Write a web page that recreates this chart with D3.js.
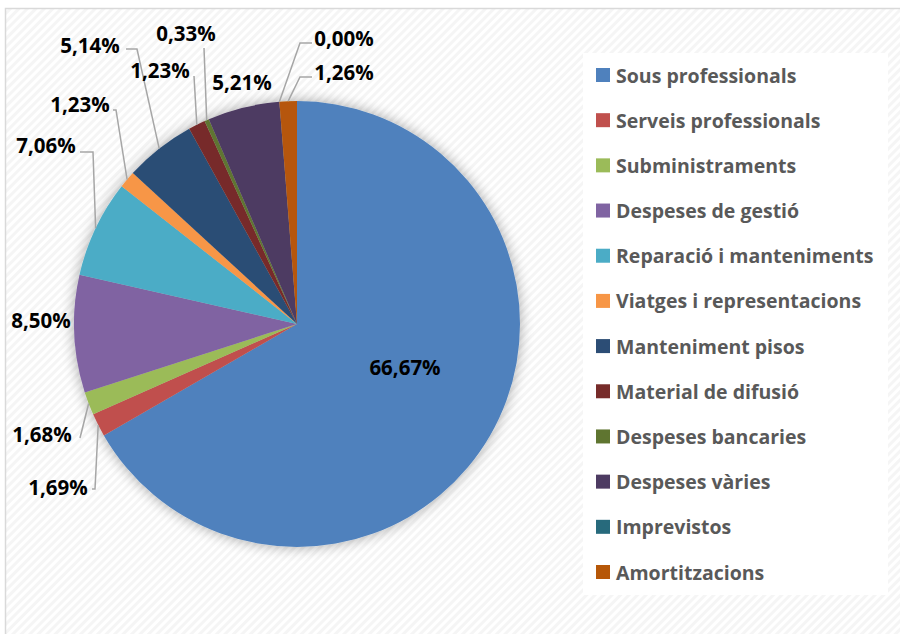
<!DOCTYPE html>
<html>
<head>
<meta charset="utf-8">
<script src="https://cdn.jsdelivr.net/npm/d3@7"></script>
<style>
  body { margin: 0; background: #fff; }
  svg { display: block; }
</style>
</head>
<body>
<div id="viz-container"></div>
<script>
// data
let categories = ["Sous professionals", "Serveis professionals", "Subministraments",
  "Despeses de gestió", "Reparació i manteniments", "Viatges i representacions",
  "Manteniment pisos", "Material de difusió", "Despeses bancaries",
  "Despeses vàries", "Imprevistos", "Amortitzacions"];
let shares = [66.67, 1.69, 1.68, 8.50, 7.06, 1.23, 5.14, 1.23, 0.33, 5.21, 0.00, 1.26];
let valueLabels = ["66,67%", "1,69%", "1,68%", "8,50%", "7,06%", "1,23%",
  "5,14%", "1,23%", "0,33%", "5,21%", "0,00%", "1,26%"];

let colors = ["#4F81BD", "#C0504D", "#9BBB59", "#8064A2", "#4BACC6", "#F79646",
  "#2C4D75", "#772C2A", "#5F7530", "#4D3B62", "#276A7C", "#B65708"];

// label placement (text centre, leader start, leader elbow) - no s = no leader
let labelPlace = [
  {t: [405, 367]},
  {t: [58, 487], s: [92, 489], e: [95, 489]},
  {t: [42, 434], s: [80, 438], e: [80, 438]},
  {t: [41, 320]},
  {t: [46, 145], s: [80, 152], e: [93, 152]},
  {t: [80, 104], s: [113, 110], e: [116, 110]},
  {t: [90, 45], s: [126, 49], e: [137, 49]},
  {t: [160, 70], s: [194, 76], e: [194, 76]},
  {t: [186, 33], s: [204, 48], e: [204, 48]},
  {t: [242, 82]},
  {t: [344, 38], s: [312, 43], e: [300, 43]},
  {t: [344, 72], s: [312, 77], e: [300, 77]}
];

let w = 900, h = 634;
let cx = 297, cy = 324, r = 223;

let svg = d3.select("#viz-container").append("svg")
  .attr("width", w).attr("height", h);

let defs = svg.append("defs");
let pat = defs.append("pattern").attr("id", "hatch")
  .attr("patternUnits", "userSpaceOnUse")
  .attr("width", 6).attr("height", 6)
  .attr("patternTransform", "rotate(45)");
pat.append("rect").attr("width", 6).attr("height", 6).attr("fill", "#ffffff");
pat.append("rect").attr("width", 3).attr("height", 6).attr("fill", "#f5f5f5");

let shadow = defs.append("filter").attr("id", "shadow")
  .attr("x", "-20%").attr("y", "-20%").attr("width", "140%").attr("height", "140%");
shadow.append("feGaussianBlur").attr("in", "SourceAlpha").attr("stdDeviation", 7).attr("result", "b");
shadow.append("feComponentTransfer").attr("in", "b").attr("result", "bs")
  .append("feFuncA").attr("type", "linear").attr("slope", 0.35);
let merge = shadow.append("feMerge");
merge.append("feMergeNode").attr("in", "bs");
merge.append("feMergeNode").attr("in", "SourceGraphic");

// background + frame
svg.append("rect").attr("x", 5.5).attr("y", 8.5).attr("width", w).attr("height", h)
  .attr("fill", "url(#hatch)").attr("stroke", "#d9d9d9").attr("stroke-width", 1.5);

// pie
let pie = d3.pie().sort(null).value(d => d).startAngle(0).endAngle(2 * Math.PI);
let arcs = pie(shares);
let arc = d3.arc().innerRadius(0).outerRadius(r);

let pieG = svg.append("g").attr("transform", "translate(" + cx + "," + cy + ")");
pieG.append("g").attr("filter", "url(#shadow)")
  .selectAll("path").data(arcs).enter()
  .append("path")
  .attr("d", arc)
  .attr("fill", (d, i) => colors[i]);

// leader lines
let leaders = svg.append("g");
arcs.forEach(function(d, i) {
  let p = labelPlace[i];
  if (!p.s) return;
  let a = (d.startAngle + d.endAngle) / 2;
  let end = [cx + r * Math.sin(a), cy - r * Math.cos(a)];
  leaders.append("polyline")
    .attr("points", [p.s, p.e, end].map(q => q.join(",")).join(" "))
    .attr("fill", "none")
    .attr("stroke", "#a6a6a6")
    .attr("stroke-width", 1.5);
});

// value labels
svg.append("g").selectAll("text").data(valueLabels).enter()
  .append("text")
  .attr("x", (d, i) => labelPlace[i].t[0])
  .attr("y", (d, i) => labelPlace[i].t[1])
  .attr("text-anchor", "middle")
  .attr("dominant-baseline", "central")
  .attr("font-family", "Open Sans")
  .attr("font-weight", "bold")
  .attr("font-size", "20.5px")
  .attr("fill", "#000")
  .text(d => d);

// legend
let legend = svg.append("g");
legend.append("rect").attr("x", 583).attr("y", 53).attr("width", 305).attr("height", 542)
  .attr("fill", "#ffffff");
let rowY = d3.scalePoint().domain(categories).range([75, 572]);
let items = legend.selectAll(".item").data(categories).enter()
  .append("g").attr("class", "item")
  .attr("transform", d => "translate(596," + rowY(d) + ")");
items.append("rect").attr("x", 0).attr("y", -7).attr("width", 14).attr("height", 14)
  .attr("fill", (d, i) => colors[i]);
items.append("text").attr("x", 20).attr("y", 0)
  .attr("dominant-baseline", "central")
  .attr("font-family", "Open Sans")
  .attr("font-weight", "bold")
  .attr("font-size", "19.5px")
  .attr("fill", "#595959")
  .text(d => d);
</script>
</body>
</html>
